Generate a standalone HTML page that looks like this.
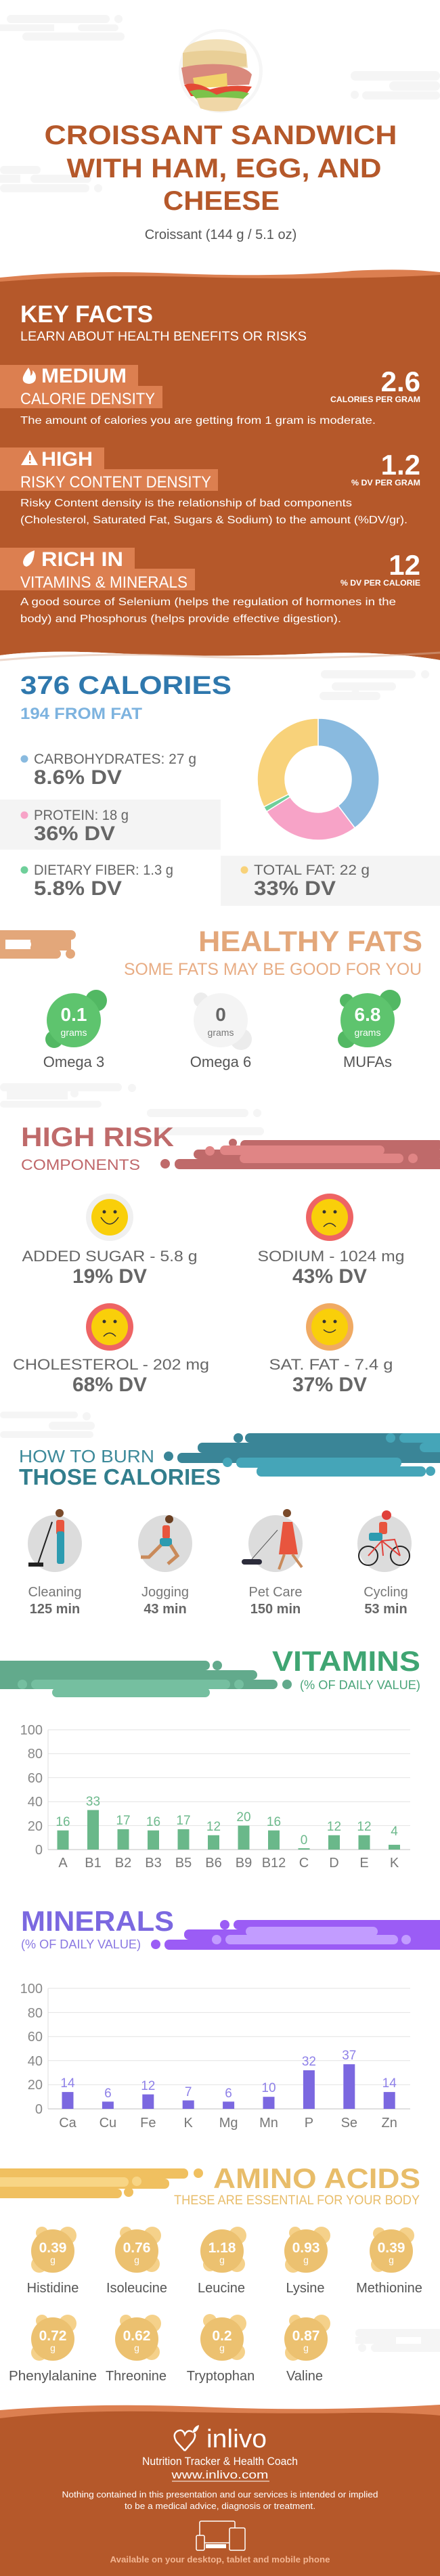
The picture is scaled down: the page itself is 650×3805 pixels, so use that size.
<!DOCTYPE html>
<html><head><meta charset="utf-8"><style>
html,body{margin:0;padding:0;background:#fff}
svg{display:block}
text{font-family:"Liberation Sans",sans-serif}
</style></head><body>
<svg width="650" height="3805" viewBox="0 0 650 3805" xmlns="http://www.w3.org/2000/svg">
<rect width="650" height="3805" fill="#fff"/>

<!-- header decorations -->
<g fill="#f5f5f5">
<rect x="10" y="22" width="152" height="12" rx="6"/><circle cx="175" cy="28" r="6"/>
<rect x="33" y="48" width="151" height="12" rx="6"/><rect x="0" y="36" width="80" height="10"/><rect x="115" y="36" width="60" height="10" rx="5"/>
<rect x="518" y="105" width="132" height="14" rx="7"/><rect x="535" y="135" width="115" height="12" rx="6"/><circle cx="524" cy="140" r="6"/><rect x="575" y="120" width="75" height="14" rx="7"/>
<rect x="0" y="245" width="60" height="12" rx="6"/><rect x="0" y="272" width="132" height="12" rx="6"/><circle cx="145" cy="278" r="6"/><rect x="0" y="258" width="30" height="12"/><rect x="45" y="258" width="90" height="12" rx="6"/>
</g>
<!-- sandwich image -->
<ellipse cx="326" cy="105" rx="62" ry="62" fill="#f6f6f6"/>
<ellipse cx="326" cy="105" rx="57" ry="58" fill="#fff"/>
<path d="M270 80 Q275 58 320 58 Q360 58 364 78 L366 100 L270 102 Z" fill="#f2e0b8"/>
<path d="M270 78 Q320 70 364 80 L364 98 L270 102Z" fill="#e9cf97"/>
<path d="M268 100 Q300 92 340 96 Q365 100 372 110 L368 125 Q320 128 272 124 Z" fill="#d9897c"/>
<path d="M285 115 L335 108 L336 128 L288 130Z" fill="#f2d36b"/>
<path d="M272 125 Q290 120 310 132 Q340 124 372 128 L362 142 L282 142Z" fill="#e34a35"/>
<path d="M280 135 Q300 128 320 140 Q345 130 368 138 L355 150 L295 152Z" fill="#7cc24a"/>
<path d="M290 145 Q330 142 360 146 L350 162 Q320 168 296 160Z" fill="#f0d7a7"/>

<!-- title -->
<g fill="#b5582a" font-weight="bold" font-size="40" text-anchor="middle">
<text x="326" y="213" textLength="521" lengthAdjust="spacingAndGlyphs">CROISSANT SANDWICH</text>
<text x="331" y="262" textLength="465" lengthAdjust="spacingAndGlyphs">WITH HAM, EGG, AND</text>
<text x="327" y="310" textLength="172" lengthAdjust="spacingAndGlyphs">CHEESE</text>
</g>
<text x="326" y="353" font-size="20" fill="#555" text-anchor="middle">Croissant (144 g / 5.1 oz)</text>

<!-- key facts band -->
<path d="M0 410 Q120 398 260 404 Q420 410 520 400 Q600 396 650 402 L650 420 L0 420Z" fill="#dc7f50"/>
<path d="M0 416 Q150 404 320 410 Q500 414 650 406 L650 975 Q560 960 450 966 Q300 972 150 964 Q60 960 0 968Z" fill="#b5582a"/>
<path d="M0 968 Q60 960 150 964 Q300 972 450 966 Q560 960 650 975 L650 985 L0 985Z" fill="#fff"/>
<path d="M0 975 Q150 962 300 970 Q450 976 650 964" stroke="#dcb29a" stroke-width="3" fill="none" opacity=".5"/>

<g fill="#fff">
<text x="30" y="476" font-size="35" font-weight="bold" textLength="196" lengthAdjust="spacingAndGlyphs">KEY FACTS</text>
<text x="30" y="503" font-size="19" textLength="423" lengthAdjust="spacingAndGlyphs">LEARN ABOUT HEALTH BENEFITS OR RISKS</text>
</g>
<g fill="#dc7f50">
<rect x="0" y="539" width="204" height="31"/><rect x="0" y="570" width="240" height="33"/>
<rect x="0" y="661" width="154" height="32"/><rect x="0" y="693" width="322" height="32"/>
<rect x="0" y="809" width="199" height="31"/><rect x="0" y="840" width="288" height="32"/>
</g>
<g fill="#fff">
<!-- flame -->
<path d="M42 543 Q36 551 34 557 Q32 566 43 567 Q53 566 53 557 Q53 551 48 547 Q49 553 45 555 Q46 549 42 543Z"/>
<!-- warning -->
<path d="M44 665 L56 687 L31 687Z"/>
<rect x="43" y="672" width="2.5" height="8" fill="#dc7f50"/><rect x="43" y="682" width="2.5" height="2.5" fill="#dc7f50"/>
<!-- leaf -->
<path d="M51 813 Q36 818 34 830 Q34 836 39 837 Q50 834 51 813Z"/>
<text x="61" y="565" font-size="30" font-weight="bold" textLength="126" lengthAdjust="spacingAndGlyphs">MEDIUM</text>
<text x="30" y="597" font-size="24" textLength="199" lengthAdjust="spacingAndGlyphs">CALORIE DENSITY</text>
<text x="30" y="626" font-size="16" textLength="525" lengthAdjust="spacingAndGlyphs">The amount of calories you are getting from 1 gram is moderate.</text>
<text x="621" y="578" font-size="42" font-weight="bold" text-anchor="end">2.6</text>
<text x="621" y="594" font-size="11.5" font-weight="bold" text-anchor="end" textLength="133" lengthAdjust="spacingAndGlyphs">CALORIES PER GRAM</text>

<text x="61" y="688" font-size="30" font-weight="bold" textLength="76" lengthAdjust="spacingAndGlyphs">HIGH</text>
<text x="30" y="720" font-size="24" textLength="282" lengthAdjust="spacingAndGlyphs">RISKY CONTENT DENSITY</text>
<text x="30" y="748" font-size="16" textLength="490" lengthAdjust="spacingAndGlyphs">Risky Content density is the relationship of bad components</text>
<text x="30" y="773" font-size="16" textLength="572" lengthAdjust="spacingAndGlyphs">(Cholesterol, Saturated Fat, Sugars &amp; Sodium) to the amount (%DV/gr).</text>
<text x="621" y="701" font-size="42" font-weight="bold" text-anchor="end">1.2</text>
<text x="621" y="717" font-size="11.5" font-weight="bold" text-anchor="end" textLength="102" lengthAdjust="spacingAndGlyphs">% DV PER GRAM</text>

<text x="61" y="836" font-size="30" font-weight="bold" textLength="121" lengthAdjust="spacingAndGlyphs">RICH  IN</text>
<text x="30" y="868" font-size="24" textLength="247" lengthAdjust="spacingAndGlyphs">VITAMINS &amp; MINERALS</text>
<text x="30" y="894" font-size="16" textLength="555" lengthAdjust="spacingAndGlyphs">A good source of Selenium (helps the regulation of hormones in the</text>
<text x="30" y="919" font-size="16" textLength="474" lengthAdjust="spacingAndGlyphs">body) and Phosphorus (helps provide effective digestion).</text>
<text x="621" y="849" font-size="42" font-weight="bold" text-anchor="end">12</text>
<text x="621" y="865" font-size="11.5" font-weight="bold" text-anchor="end" textLength="118" lengthAdjust="spacingAndGlyphs">% DV PER CALORIE</text>
</g>

<!-- calories -->
<g fill="#f5f5f5">
<rect x="474" y="990" width="140" height="12" rx="6"/><circle cx="628" cy="996" r="6"/>
<rect x="490" y="1008" width="95" height="12" rx="6"/><rect x="472" y="1022" width="90" height="12" rx="6"/><circle cx="525" cy="1024" r="6"/>
</g>
<text x="30" y="1025" font-size="38" font-weight="bold" fill="#2f78ad" textLength="312" lengthAdjust="spacingAndGlyphs">376 CALORIES</text>
<text x="30" y="1062" font-size="24" font-weight="bold" fill="#7db3df" textLength="180" lengthAdjust="spacingAndGlyphs">194 FROM FAT</text>
<rect x="0" y="1181" width="326" height="74" fill="#f4f4f4"/>
<rect x="326" y="1264" width="324" height="74" fill="#f4f4f4"/>
<circle cx="36" cy="1121" r="5.5" fill="#89badf"/>
<circle cx="36" cy="1204" r="5.5" fill="#f7a3c7"/>
<circle cx="36" cy="1285" r="5.5" fill="#6fcf9a"/>
<circle cx="361" cy="1285" r="5.5" fill="#f8d27a"/>
<g fill="#666">
<text x="50" y="1128" font-size="21" textLength="240" lengthAdjust="spacingAndGlyphs">CARBOHYDRATES: 27 g</text>
<text x="50" y="1158" font-size="30" font-weight="bold" textLength="130" lengthAdjust="spacingAndGlyphs">8.6% DV</text>
<text x="50" y="1211" font-size="21" textLength="140" lengthAdjust="spacingAndGlyphs">PROTEIN: 18 g</text>
<text x="50" y="1241" font-size="30" font-weight="bold" textLength="120" lengthAdjust="spacingAndGlyphs">36% DV</text>
<text x="50" y="1292" font-size="21" textLength="206" lengthAdjust="spacingAndGlyphs">DIETARY FIBER: 1.3 g</text>
<text x="50" y="1322" font-size="30" font-weight="bold" textLength="130" lengthAdjust="spacingAndGlyphs">5.8% DV</text>
<text x="375" y="1292" font-size="21" textLength="171" lengthAdjust="spacingAndGlyphs">TOTAL FAT: 22 g</text>
<text x="375" y="1322" font-size="30" font-weight="bold" textLength="121" lengthAdjust="spacingAndGlyphs">33% DV</text>
</g>
<!-- donut: center 470,1151 r 90 / 49 -->
<g stroke="#fff" stroke-width="1.5">
<path d="M470 1061 A90 90 0 0 1 524.2 1222.9 L499.5 1190.1 A49 49 0 0 0 470 1102Z" fill="#89badf"/>
<path d="M524.2 1222.9 A90 90 0 0 1 393.8 1198.7 L428.5 1177 A49 49 0 0 0 499.5 1190.1Z" fill="#f7a3c7"/>
<path d="M393.8 1198.7 A90 90 0 0 1 389.8 1191.8 L426.3 1173.2 A49 49 0 0 0 428.5 1177Z" fill="#6fcf9a"/>
<path d="M389.8 1191.8 A90 90 0 0 1 470 1061 L470 1102 A49 49 0 0 0 426.3 1173.2Z" fill="#f8d27a"/>
</g>

<!-- healthy fats -->
<g fill="#e3a77a">
<rect x="-10" y="1374" width="122" height="14" rx="7"/>
<rect x="-10" y="1402" width="100" height="14" rx="7"/>
<rect x="45" y="1386" width="60" height="18"/>
<rect x="-10" y="1386" width="18" height="18"/>
<circle cx="104" cy="1409" r="7"/>
</g>
<rect x="8" y="1388" width="38" height="14" rx="7" fill="#fff"/>
<text x="624" y="1405" font-size="43" font-weight="bold" fill="#e3a77a" text-anchor="end" textLength="331" lengthAdjust="spacingAndGlyphs">HEALTHY FATS</text>
<text x="623" y="1440" font-size="25" fill="#e8ad85" text-anchor="end" textLength="440" lengthAdjust="spacingAndGlyphs">SOME FATS MAY BE GOOD FOR YOU</text>
<g>
<circle cx="142" cy="1478" r="16" fill="#52b863"/><circle cx="80" cy="1535" r="13" fill="#52b863"/>
<circle cx="109" cy="1507" r="40" fill="#5ec46e"/>
<circle cx="297" cy="1477" r="11" fill="#ececec"/><circle cx="356" cy="1535" r="16" fill="#ececec"/>
<circle cx="326" cy="1507" r="40" fill="#f4f4f4"/>
<circle cx="576" cy="1478" r="16" fill="#52b863"/><circle cx="512" cy="1535" r="13" fill="#52b863"/><circle cx="512" cy="1478" r="10" fill="#52b863"/>
<circle cx="543" cy="1507" r="40" fill="#5ec46e"/>
</g>
<g font-weight="bold" font-size="28" text-anchor="middle">
<text x="109" y="1508" fill="#fff">0.1</text>
<text x="326" y="1508" fill="#666">0</text>
<text x="543" y="1508" fill="#fff">6.8</text>
</g>
<g font-size="14" text-anchor="middle">
<text x="109" y="1530" fill="#fff">grams</text>
<text x="326" y="1530" fill="#777">grams</text>
<text x="543" y="1530" fill="#fff">grams</text>
</g>
<g font-size="22" fill="#555" text-anchor="middle">
<text x="109" y="1576">Omega 3</text><text x="326" y="1576">Omega 6</text><text x="543" y="1576">MUFAs</text>
</g>

<!-- high risk -->
<g fill="#f5f5f5">
<rect x="0" y="1600" width="180" height="12" rx="6"/><circle cx="195" cy="1607" r="6"/>
<rect x="0" y="1626" width="150" height="10" rx="5"/><rect x="10" y="1612" width="90" height="12"/><circle cx="110" cy="1615" r="6"/>
<rect x="217" y="1638" width="150" height="12" rx="6"/><circle cx="380" cy="1644" r="6"/><rect x="230" y="1665" width="160" height="12" rx="6"/>
</g>
<g fill="#bf6a6a">
<rect x="355" y="1684" width="300" height="14" rx="7"/><circle cx="344" cy="1688" r="6"/>
<rect x="286" y="1698" width="370" height="14" rx="7"/>
<rect x="258" y="1712" width="400" height="15" rx="7"/><circle cx="244" cy="1719" r="7"/>
</g>
<g fill="#e08585">
<rect x="325" y="1692" width="243" height="14" rx="7"/><circle cx="310" cy="1700" r="7"/>
<rect x="354" y="1704" width="242" height="14" rx="7"/><circle cx="610" cy="1711" r="7"/>
</g>
<text x="31" y="1693" font-size="40" font-weight="bold" fill="#bf6a6a" textLength="226" lengthAdjust="spacingAndGlyphs">HIGH RISK</text>
<text x="31" y="1728" font-size="22" fill="#c0676a" textLength="176" lengthAdjust="spacingAndGlyphs">COMPONENTS</text>
<!-- smileys -->
<g>
<circle cx="162" cy="1798" r="35" fill="#f0f0f0"/><circle cx="162" cy="1798" r="27" fill="#f9cf0a"/>
<circle cx="487" cy="1798" r="35" fill="#ee6464"/><circle cx="487" cy="1798" r="27" fill="#f9cf0a"/>
<circle cx="162" cy="1960" r="35" fill="#ee6464"/><circle cx="162" cy="1960" r="27" fill="#f9cf0a"/>
<circle cx="487" cy="1960" r="35" fill="#f0aa63"/><circle cx="487" cy="1960" r="27" fill="#f9cf0a"/>
</g>
<g fill="#333">
<circle cx="154" cy="1790" r="2.5"/><circle cx="170" cy="1790" r="2.5"/>
<circle cx="479" cy="1790" r="2.5"/><circle cx="495" cy="1790" r="2.5"/>
<circle cx="154" cy="1952" r="2.5"/><circle cx="170" cy="1952" r="2.5"/>
<circle cx="479" cy="1952" r="2.5"/><circle cx="495" cy="1952" r="2.5"/>
</g>
<g stroke="#333" stroke-width="1.5" fill="none">
<path d="M149 1798 Q162 1818 175 1798"/>
<path d="M478 1812 Q487 1802 496 1812"/>
<path d="M153 1974 Q162 1964 171 1974"/>
<path d="M478 1964 Q487 1972 496 1964"/>
</g>
<g font-size="22" fill="#666" text-anchor="middle">
<text x="162" y="1863" textLength="259" lengthAdjust="spacingAndGlyphs">ADDED SUGAR - 5.8 g</text>
<text x="489" y="1863" textLength="217" lengthAdjust="spacingAndGlyphs">SODIUM - 1024 mg</text>
<text x="164" y="2023" textLength="290" lengthAdjust="spacingAndGlyphs">CHOLESTEROL - 202 mg</text>
<text x="489" y="2023" textLength="183" lengthAdjust="spacingAndGlyphs">SAT. FAT - 7.4 g</text>
</g>
<g font-size="30" font-weight="bold" fill="#666" text-anchor="middle">
<text x="162" y="1895">19% DV</text><text x="487" y="1895">43% DV</text>
<text x="162" y="2055">68% DV</text><text x="487" y="2055">37% DV</text>
</g>

<!-- how to burn -->
<g fill="#f5f5f5">
<rect x="0" y="2085" width="115" height="10" rx="5"/><circle cx="128" cy="2092" r="6"/>
<rect x="72" y="2100" width="68" height="12" rx="6"/><rect x="0" y="2114" width="138" height="10" rx="5"/>
</g>
<g fill="#3a8597">
<rect x="362" y="2117" width="300" height="14" rx="7"/><circle cx="352" cy="2124" r="7"/>
<rect x="292" y="2131" width="370" height="15" rx="7"/>
<rect x="262" y="2146" width="400" height="15" rx="7"/><circle cx="249" cy="2151" r="7"/>
</g>
<g fill="#45a5b8">
<rect x="590" y="2117" width="70" height="14" rx="7"/><circle cx="577" cy="2124" r="7"/>
<rect x="620" y="2131" width="40" height="14" rx="7"/>
<rect x="349" y="2153" width="244" height="15" rx="7"/><circle cx="336" cy="2160" r="7"/>
<rect x="379" y="2166" width="250" height="15" rx="7"/><circle cx="636" cy="2173" r="7"/>
</g>
<text x="28" y="2160" font-size="26" fill="#3d8a9a" textLength="200" lengthAdjust="spacingAndGlyphs">HOW TO BURN</text>
<text x="28" y="2193" font-size="33" font-weight="bold" fill="#327e8d" textLength="298" lengthAdjust="spacingAndGlyphs">THOSE CALORIES</text>
<g fill="#dcdcdc">
<ellipse cx="81" cy="2280" rx="40" ry="42"/><ellipse cx="244" cy="2280" rx="40" ry="42"/>
<ellipse cx="407" cy="2280" rx="40" ry="42"/><ellipse cx="568" cy="2280" rx="40" ry="42"/>
</g>
<!-- figures -->
<g>
<circle cx="88" cy="2235" r="6" fill="#7a4a2a"/><rect x="83" y="2245" width="12" height="22" rx="3" fill="#e8553e"/>
<rect x="84" y="2262" width="11" height="48" rx="3" fill="#2d9bb0"/>
<line x1="77" y1="2248" x2="55" y2="2313" stroke="#222" stroke-width="2"/><rect x="42" y="2308" width="22" height="6" fill="#222"/>
<circle cx="250" cy="2244" r="6" fill="#6b3f22"/><rect x="240" y="2253" width="11" height="20" rx="3" fill="#e8553e"/>
<rect x="236" y="2272" width="18" height="12" rx="3" fill="#2d9bb0"/>
<path d="M238 2282 L220 2300 L208 2300 M252 2282 L262 2298 L248 2310" stroke="#c98a5a" stroke-width="5" fill="none"/>
<circle cx="424" cy="2235" r="6" fill="#7a4a2a"/><path d="M418 2248 L432 2248 L440 2296 L412 2296Z" fill="#e8553e"/>
<path d="M420 2296 L412 2318 M432 2296 L446 2315" stroke="#c98a5a" stroke-width="4"/>
<line x1="410" y1="2260" x2="372" y2="2303" stroke="#555" stroke-width="1"/>
<rect x="357" y="2303" width="30" height="8" rx="4" fill="#2b2b3a"/>
<circle cx="571" cy="2238" r="7" fill="#e0403a"/><rect x="560" y="2248" width="12" height="18" rx="3" fill="#e8553e"/>
<rect x="545" y="2264" width="20" height="12" rx="3" fill="#2d9bb0"/>
<g stroke="#222" stroke-width="2" fill="none"><circle cx="544" cy="2298" r="14"/><circle cx="591" cy="2298" r="14"/></g>
<path d="M544 2298 L564 2276 L591 2298 M564 2276 L583 2274 L591 2298 M564 2276 L566 2298" stroke="#e0403a" stroke-width="2" fill="none"/>
</g>
<g font-size="20" fill="#777" text-anchor="middle">
<text x="81" y="2358">Cleaning</text><text x="244" y="2358">Jogging</text><text x="407" y="2358">Pet Care</text><text x="570" y="2358">Cycling</text>
</g>
<g font-size="20" font-weight="bold" fill="#666" text-anchor="middle">
<text x="81" y="2383">125 min</text><text x="244" y="2383">43 min</text><text x="407" y="2383">150 min</text><text x="570" y="2383">53 min</text>
</g>

<!-- vitamins -->
<g fill="#62aa8c">
<rect x="-10" y="2453" width="320" height="14" rx="7"/><circle cx="321" cy="2460" r="7"/>
<rect x="-10" y="2467" width="390" height="14" rx="7"/>
<rect x="-10" y="2481" width="420" height="14" rx="7"/><circle cx="424" cy="2488" r="7"/>
</g>
<g fill="#75bfa0">
<rect x="46" y="2481" width="294" height="14" rx="7"/><circle cx="33" cy="2488" r="7"/><circle cx="353" cy="2488" r="7"/>
<rect x="77" y="2493" width="233" height="14" rx="7"/>
</g>
<text x="621" y="2468" font-size="42" font-weight="bold" fill="#3fa572" text-anchor="end" textLength="219" lengthAdjust="spacingAndGlyphs">VITAMINS</text>
<text x="621" y="2495" font-size="18" fill="#4aa57a" text-anchor="end" textLength="178" lengthAdjust="spacingAndGlyphs">(% OF DAILY VALUE)</text>
<g stroke="#e2e2e2" stroke-width="1">
<line x1="71" y1="2555" x2="606" y2="2555"/><line x1="71" y1="2590.4" x2="606" y2="2590.4"/>
<line x1="71" y1="2625.8" x2="606" y2="2625.8"/><line x1="71" y1="2661.2" x2="606" y2="2661.2"/>
<line x1="71" y1="2696.6" x2="606" y2="2696.6"/>
</g>
<line x1="71" y1="2555" x2="71" y2="2732" stroke="#ddd"/>
<line x1="71" y1="2732" x2="606" y2="2732" stroke="#d5d5d5" stroke-width="1.5"/>
<g font-size="20" fill="#888" text-anchor="end">
<text x="63" y="2562">100</text><text x="63" y="2597">80</text><text x="63" y="2633">60</text><text x="63" y="2668">40</text><text x="63" y="2704">20</text><text x="63" y="2739">0</text>
</g>
<g fill="#6ab88a">
<rect x="84.5" y="2703.7" width="17" height="28.3"/>
<rect x="129" y="2673.6" width="17" height="58.4"/>
<rect x="173.5" y="2701.9" width="17" height="30.1"/>
<rect x="218" y="2703.7" width="17" height="28.3"/>
<rect x="262.5" y="2701.9" width="17" height="30.1"/>
<rect x="307" y="2710.8" width="17" height="21.2"/>
<rect x="351.5" y="2696.6" width="17" height="35.4"/>
<rect x="396" y="2703.7" width="17" height="28.3"/>
<rect x="440.5" y="2730" width="17" height="2"/>
<rect x="485" y="2710.8" width="17" height="21.2"/>
<rect x="529.5" y="2710.8" width="17" height="21.2"/>
<rect x="574" y="2724.9" width="17" height="7.1"/>
</g>
<g font-size="19" fill="#6db98c" text-anchor="middle">
<text x="93" y="2697">16</text><text x="137.5" y="2667">33</text><text x="182" y="2695">17</text><text x="226.5" y="2697">16</text>
<text x="271" y="2695">17</text><text x="315.5" y="2704">12</text><text x="360" y="2690">20</text><text x="404.5" y="2697">16</text>
<text x="449" y="2724">0</text><text x="493.5" y="2704">12</text><text x="538" y="2704">12</text><text x="582.5" y="2711">4</text>
</g>
<g font-size="20" fill="#777" text-anchor="middle">
<text x="93" y="2758">A</text><text x="137.5" y="2758">B1</text><text x="182" y="2758">B2</text><text x="226.5" y="2758">B3</text>
<text x="271" y="2758">B5</text><text x="315.5" y="2758">B6</text><text x="360" y="2758">B9</text><text x="404.5" y="2758">B12</text>
<text x="449" y="2758">C</text><text x="493.5" y="2758">D</text><text x="538" y="2758">E</text><text x="582.5" y="2758">K</text>
</g>

<!-- minerals -->
<g fill="#9b5cf5">
<rect x="345" y="2836" width="320" height="14" rx="7"/><circle cx="332" cy="2843" r="7"/>
<rect x="272" y="2850" width="390" height="15" rx="7"/>
<rect x="243" y="2865" width="420" height="15" rx="7"/><circle cx="230" cy="2872" r="7"/>
</g>
<g fill="#c29cff">
<rect x="363" y="2846" width="195" height="14" rx="7"/>
<rect x="333" y="2858" width="255" height="14" rx="7"/><circle cx="320" cy="2865" r="7"/><circle cx="600" cy="2865" r="7"/>
</g>
<text x="31" y="2852" font-size="42" font-weight="bold" fill="#7b68e0" textLength="226" lengthAdjust="spacingAndGlyphs">MINERALS</text>
<text x="31" y="2878" font-size="18" fill="#8a78e2" textLength="177" lengthAdjust="spacingAndGlyphs">(% OF DAILY VALUE)</text>
<g stroke="#e2e2e2" stroke-width="1">
<line x1="71" y1="2937" x2="606" y2="2937"/><line x1="71" y1="2972.6" x2="606" y2="2972.6"/>
<line x1="71" y1="3008.2" x2="606" y2="3008.2"/><line x1="71" y1="3043.8" x2="606" y2="3043.8"/>
<line x1="71" y1="3079.4" x2="606" y2="3079.4"/>
</g>
<line x1="71" y1="2937" x2="71" y2="3115" stroke="#ddd"/>
<line x1="71" y1="3115" x2="606" y2="3115" stroke="#d5d5d5" stroke-width="1.5"/>
<g font-size="20" fill="#888" text-anchor="end">
<text x="63" y="2944">100</text><text x="63" y="2980">80</text><text x="63" y="3015">60</text><text x="63" y="3051">40</text><text x="63" y="3086">20</text><text x="63" y="3122">0</text>
</g>
<g fill="#7b68e0">
<rect x="91.5" y="3090.1" width="17" height="24.9"/>
<rect x="150.9" y="3104.3" width="17" height="10.7"/>
<rect x="210.3" y="3093.6" width="17" height="21.4"/>
<rect x="269.7" y="3102.5" width="17" height="12.5"/>
<rect x="329.1" y="3104.3" width="17" height="10.7"/>
<rect x="388.5" y="3097.2" width="17" height="17.8"/>
<rect x="447.9" y="3058" width="17" height="57"/>
<rect x="507.3" y="3049.1" width="17" height="65.9"/>
<rect x="566.7" y="3090.1" width="17" height="24.9"/>
</g>
<g font-size="19" fill="#8e80e8" text-anchor="middle">
<text x="100" y="3083">14</text><text x="159.4" y="3098">6</text><text x="218.8" y="3087">12</text><text x="278.2" y="3096">7</text>
<text x="337.6" y="3098">6</text><text x="397" y="3090">10</text><text x="456.4" y="3051">32</text><text x="515.8" y="3042">37</text><text x="575.2" y="3083">14</text>
</g>
<g font-size="20" fill="#777" text-anchor="middle">
<text x="100" y="3142">Ca</text><text x="159.4" y="3142">Cu</text><text x="218.8" y="3142">Fe</text><text x="278.2" y="3142">K</text>
<text x="337.6" y="3142">Mg</text><text x="397" y="3142">Mn</text><text x="456.4" y="3142">P</text><text x="515.8" y="3142">Se</text><text x="575.2" y="3142">Zn</text>
</g>

<!-- amino acids -->
<g fill="#f0c060">
<rect x="-10" y="3203" width="288" height="15" rx="7"/><circle cx="293" cy="3210" r="7"/>
<rect x="-10" y="3218" width="260" height="15" rx="7"/>
<rect x="-10" y="3233" width="190" height="14" rx="7"/><circle cx="190" cy="3238" r="7"/>
</g>
<g fill="#f8d585">
<rect x="-10" y="3216" width="200" height="14" rx="7"/><circle cx="202" cy="3222" r="7"/>
</g>
<text x="621" y="3232" font-size="42" font-weight="bold" fill="#e8bd6a" text-anchor="end" textLength="306" lengthAdjust="spacingAndGlyphs">AMINO ACIDS</text>
<text x="620" y="3256" font-size="19" fill="#e8bd6a" text-anchor="end" textLength="363" lengthAdjust="spacingAndGlyphs">THESE ARE ESSENTIAL FOR YOUR BODY</text>
<g id="am">
<g fill="#f5d18a">
<circle cx="100" cy="3302" r="13"/><circle cx="58" cy="3345" r="12"/><circle cx="62" cy="3298" r="9"/>
<circle cx="225" cy="3302" r="13"/><circle cx="224" cy="3344" r="12"/><circle cx="186" cy="3298" r="9"/>
<circle cx="351" cy="3302" r="13"/><circle cx="350" cy="3344" r="12"/><circle cx="310" cy="3345" r="10"/>
<circle cx="475" cy="3302" r="13"/><circle cx="433" cy="3345" r="12"/><circle cx="436" cy="3298" r="9"/>
<circle cx="600" cy="3302" r="12"/><circle cx="559" cy="3345" r="11"/><circle cx="560" cy="3299" r="9"/>
<circle cx="100" cy="3432" r="13"/><circle cx="58" cy="3475" r="12"/><circle cx="62" cy="3428" r="9"/>
<circle cx="225" cy="3432" r="13"/><circle cx="224" cy="3474" r="12"/><circle cx="186" cy="3428" r="9"/>
<circle cx="351" cy="3432" r="13"/><circle cx="350" cy="3474" r="12"/><circle cx="310" cy="3428" r="10"/>
<circle cx="475" cy="3432" r="13"/><circle cx="433" cy="3475" r="12"/><circle cx="436" cy="3428" r="9"/>
</g>
<g fill="#ecc170">
<circle cx="78" cy="3325" r="32"/><circle cx="202" cy="3325" r="32"/><circle cx="328" cy="3325" r="32"/><circle cx="452" cy="3325" r="32"/><circle cx="578" cy="3325" r="32"/>
<circle cx="78" cy="3455" r="32"/><circle cx="202" cy="3455" r="32"/><circle cx="328" cy="3455" r="32"/><circle cx="452" cy="3455" r="32"/>
</g>
</g>
<g font-size="21" font-weight="bold" fill="#fff" text-anchor="middle">
<text x="78" y="3327">0.39</text><text x="202" y="3327">0.76</text><text x="328" y="3327">1.18</text><text x="452" y="3327">0.93</text><text x="578" y="3327">0.39</text>
<text x="78" y="3457">0.72</text><text x="202" y="3457">0.62</text><text x="328" y="3457">0.2</text><text x="452" y="3457">0.87</text>
</g>
<g font-size="14" fill="#fff" text-anchor="middle">
<text x="78" y="3343">g</text><text x="202" y="3343">g</text><text x="328" y="3343">g</text><text x="452" y="3343">g</text><text x="578" y="3343">g</text>
<text x="78" y="3473">g</text><text x="202" y="3473">g</text><text x="328" y="3473">g</text><text x="452" y="3473">g</text>
</g>
<g font-size="20" fill="#555" text-anchor="middle">
<text x="78" y="3386">Histidine</text><text x="202" y="3386">Isoleucine</text><text x="327" y="3386">Leucine</text><text x="451" y="3386">Lysine</text><text x="575" y="3386">Methionine</text>
<text x="78" y="3516" textLength="130" lengthAdjust="spacingAndGlyphs">Phenylalanine</text><text x="201" y="3516">Threonine</text><text x="326" y="3516">Tryptophan</text><text x="450" y="3516">Valine</text>
</g>
<g fill="#f5f5f5">
<rect x="525" y="3440" width="130" height="12" rx="6"/><rect x="548" y="3462" width="110" height="12" rx="6"/><circle cx="535" cy="3468" r="6"/>
<rect x="525" y="3452" width="60" height="10"/><rect x="622" y="3452" width="30" height="10"/>
</g>

<!-- footer -->
<path d="M0 3560 Q150 3548 320 3556 Q480 3562 650 3552 L650 3805 L0 3805Z" fill="#dc7f50"/>
<path d="M0 3572 Q100 3560 230 3562 Q420 3566 520 3564 Q600 3563 650 3568 L650 3805 L0 3805Z" fill="#b5582a"/>
<g fill="none" stroke="#fff" stroke-width="2.5">
<path d="M273 3620 L261 3607 Q254 3596 262 3591 Q270 3587 273 3596 Q277 3588 284 3592"/>
<path d="M273 3620 L285 3606 Q290 3598 287 3594"/>
</g>
<path d="M284 3594 Q286 3584 294 3582 Q293 3592 284 3594Z" fill="#fff"/>
<text x="305" y="3615" font-size="38" fill="#fff" textLength="89" lengthAdjust="spacingAndGlyphs">inlivo</text>
<text x="325" y="3641" font-size="17" fill="#fff" text-anchor="middle" textLength="230" lengthAdjust="spacingAndGlyphs">Nutrition Tracker &amp; Health Coach</text>
<text x="325" y="3661" font-size="17" fill="#fff" text-anchor="middle" textLength="143" lengthAdjust="spacingAndGlyphs">www.inlivo.com</text>
<line x1="254" y1="3665" x2="398" y2="3665" stroke="#fff" stroke-width="1"/>
<text x="325" y="3689" font-size="13" fill="#fff" text-anchor="middle" textLength="467" lengthAdjust="spacingAndGlyphs">Nothing contained in this presentation and our services is intended or implied</text>
<text x="325" y="3706" font-size="13" fill="#fff" text-anchor="middle" textLength="282" lengthAdjust="spacingAndGlyphs">to be a medical advice, diagnosis or treatment.</text>
<g fill="none" stroke="#fff" stroke-width="1.5">
<rect x="295" y="3724" width="52" height="32" rx="2"/>
<rect x="290" y="3745" width="12" height="22" rx="2" fill="#b5582a"/>
<rect x="339" y="3734" width="23" height="33" rx="2" fill="#b5582a"/>
</g>
<rect x="304" y="3758" width="30" height="6" fill="#fff"/>
<text x="325" y="3785" font-size="13" font-weight="bold" fill="#f2b592" text-anchor="middle" textLength="325" lengthAdjust="spacingAndGlyphs">Available on your desktop, tablet and mobile phone</text>
</svg>
</body></html>
